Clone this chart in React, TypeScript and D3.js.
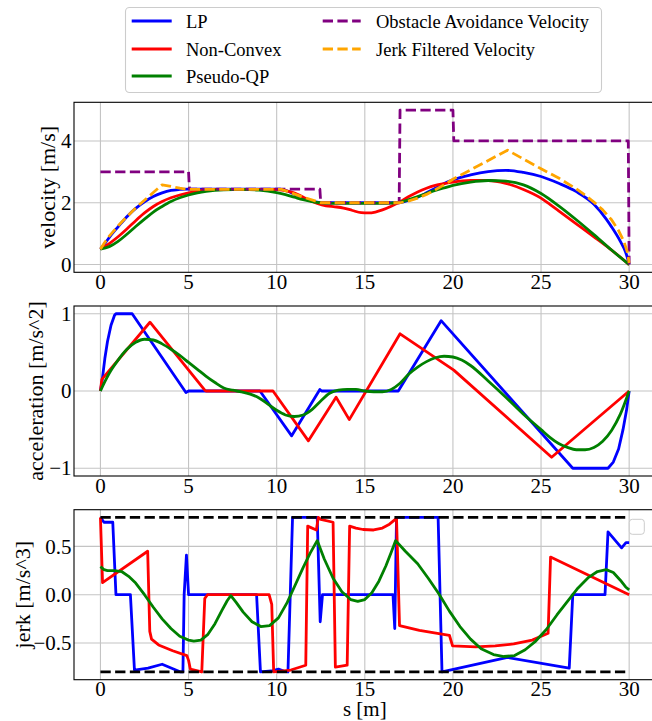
import { useEffect } from "react";
import * as d3 from "d3";

type Pt = [number, number];

// shared x axis: arc length s [m]
const sTicks = [0, 5, 10, 15, 20, 25, 30];

// ---- velocity panel ----
const velTicks = [0, 2, 4];
const velLP: Pt[] = [
  [0, 0.5], [0.3, 0.72], [0.6, 0.95], [1, 1.22], [1.5, 1.55], [2, 1.82], [2.5, 2.03], [3, 2.2],
  [3.5, 2.32], [4, 2.4], [4.5, 2.43], [5, 2.44], [10.2, 2.44], [10.6, 2.38], [11, 2.28], [11.5, 2.15],
  [12, 2.05], [12.5, 2.0], [16.9, 2.0], [17.5, 2.08], [18, 2.18], [18.5, 2.32], [19, 2.47], [19.5, 2.62],
  [20, 2.74], [21, 2.9], [22, 3.01], [23, 3.05], [24, 2.98], [25, 2.85], [26, 2.63], [27, 2.36],
  [28, 1.95], [28.7, 1.47], [29, 1.22], [29.5, 0.75], [29.8, 0.4], [30, 0.02],
];
const velNC: Pt[] = [
  [0, 0.5], [0.5, 0.68], [1, 0.9], [1.5, 1.15], [2, 1.42], [2.5, 1.67], [3, 1.88], [3.5, 2.04],
  [4, 2.16], [4.5, 2.25], [5, 2.32], [5.5, 2.38], [6, 2.42], [6.5, 2.43], [9.8, 2.43], [10.3, 2.41],
  [10.8, 2.35], [11.3, 2.24], [11.8, 2.1], [12.3, 1.98], [12.8, 1.9], [13.3, 1.87], [13.8, 1.83],
  [14.3, 1.75], [14.8, 1.68], [15.2, 1.67], [15.6, 1.7], [16, 1.77], [16.5, 1.89], [17, 2.03],
  [17.5, 2.2], [18, 2.35], [18.5, 2.47], [19, 2.56], [19.5, 2.62], [20, 2.67], [21, 2.72], [22, 2.72],
  [23, 2.63], [24, 2.43], [25, 2.15], [25.5, 1.95], [26, 1.74], [27, 1.32], [28, 0.9], [29, 0.47], [30, 0],
];
const velQP: Pt[] = [
  [0, 0.5], [0.5, 0.58], [1, 0.75], [1.5, 0.98], [2, 1.23], [2.5, 1.47], [3, 1.7], [3.5, 1.88],
  [4, 2.04], [4.5, 2.16], [5, 2.25], [5.5, 2.32], [6, 2.37], [7, 2.42], [8, 2.43], [9, 2.41],
  [9.5, 2.38], [10, 2.33], [10.5, 2.26], [11, 2.18], [11.5, 2.1], [12, 2.04], [12.5, 2.0], [13, 1.98],
  [14, 1.98], [15, 1.98], [16, 1.98], [16.5, 1.99], [17, 2.02], [17.5, 2.1], [18, 2.2], [18.5, 2.3],
  [19, 2.4], [19.5, 2.48], [20, 2.56], [21, 2.67], [22, 2.72], [23, 2.7], [24, 2.58], [25, 2.3],
  [26, 1.9], [27, 1.45], [28, 0.97], [29, 0.47], [30, 0],
];
const velObstacle: Pt[] = [
  [0, 3], [5, 3], [5.05, 2.44], [12.45, 2.44], [12.5, 2.0], [16.95, 2.0], [17, 5], [20, 5], [20.05, 4],
  [29.95, 4], [30, 0],
];
const velJerkFiltered: Pt[] = [
  [0, 0.5], [0.25, 0.72], [0.5, 0.92], [1, 1.25], [1.5, 1.55], [2, 1.83], [2.5, 2.08], [3, 2.33],
  [3.5, 2.58], [4, 2.53], [4.5, 2.47], [5, 2.43], [10.3, 2.43], [11.4, 2.2], [12.5, 2.0], [17, 2.0],
  [17.5, 2.06], [18, 2.15], [18.5, 2.27], [19, 2.42], [19.5, 2.58], [20, 2.76], [23.1, 3.7], [25, 3.1],
  [26, 2.8], [27, 2.45], [27.5, 2.25], [28, 2.02], [28.5, 1.77], [29, 1.45], [29.4, 1.1], [29.7, 0.75],
  [29.9, 0.4], [30, 0.05],
];

// ---- acceleration panel ----
const accTicks = [-1, 0, 1];
const accLP: Pt[] = [
  [0, 0], [0.1, 0.14], [0.25, 0.42], [0.4, 0.64], [0.6, 0.85], [0.8, 0.98], [0.88, 1.0], [1.8, 1.0],
  [4.85, -0.02], [5.0, 0], [9.05, 0], [10.85, -0.58], [12.45, 0.02], [12.55, 0], [16.9, 0],
  [19.33, 0.91], [26.8, -1.0], [28.8, -1.0], [29.1, -0.92], [29.4, -0.75], [29.65, -0.5],
  [29.85, -0.25], [30, 0],
];
const accNC: Pt[] = [
  [0, 0], [0.08, 0.15], [2.81, 0.89], [5.92, 0.01], [6.0, 0], [9.79, 0], [11.8, -0.645], [13.37, -0.08],
  [14.12, -0.37], [17.0, 0.74], [20.05, 0.27], [25.6, -0.857], [30, 0],
];
const accQP: Pt[] = [
  [0, 0], [0.25, 0.12], [0.5, 0.23], [1, 0.4], [1.5, 0.54], [2, 0.63], [2.5, 0.67], [3, 0.66],
  [3.5, 0.61], [4, 0.54], [4.5, 0.46], [5, 0.37], [5.5, 0.28], [6, 0.19], [6.5, 0.11], [7, 0.04],
  [7.5, 0.01], [8, -0.01], [8.5, -0.04], [9, -0.09], [9.5, -0.17], [10, -0.25], [10.5, -0.31],
  [11, -0.33], [11.5, -0.31], [12, -0.24], [12.5, -0.13], [13, -0.03], [13.5, 0.01], [14, 0.02],
  [14.5, 0.02], [15, 0.0], [15.5, -0.01], [16, -0.01], [16.5, 0.02], [17, 0.1], [17.5, 0.22],
  [18, 0.31], [18.5, 0.38], [19, 0.43], [19.5, 0.45], [20, 0.44], [20.5, 0.4], [21, 0.33], [22, 0.13],
  [23, -0.08], [24, -0.3], [25, -0.5], [25.5, -0.6], [26, -0.68], [26.5, -0.73], [27, -0.76],
  [27.5, -0.76], [28, -0.73], [28.5, -0.65], [29, -0.51], [29.5, -0.3], [30, 0],
];

// ---- jerk panel ----
const jerkTicks = [-0.5, 0, 0.5];
const jerkLimit = 0.8;
const jerkLP: Pt[] = [
  [0, 0.8], [0.2, 0.75], [0.7, 0.75], [0.88, 0], [1.7, 0], [1.93, -0.78], [2.7, -0.76], [3.5, -0.72],
  [4.55, -0.8], [4.68, -0.8], [4.75, 0], [4.88, 0.41], [5.0, 0], [8.86, 0], [9.08, -0.8], [9.7, -0.79],
  [10.1, -0.77], [10.4, -0.79], [10.64, -0.8], [10.9, 0.8], [12.3, 0.8], [12.47, -0.28], [12.6, 0],
  [16.6, 0], [16.7, -0.35], [16.8, 0.8], [19.16, 0.8], [19.38, -0.8], [23.1, -0.65], [26.6, -0.76],
  [26.8, 0], [28.63, 0], [28.8, 0.65], [29.57, 0.485], [29.82, 0.54], [30, 0.54],
];
const jerkNC: Pt[] = [
  [0, 0.8], [0.12, 0.125], [2.68, 0.45], [2.8, -0.38], [2.9, -0.46], [3.3, -0.52], [4.1, -0.58],
  [4.9, -0.63], [5.0, -0.68], [5.1, -0.77], [5.75, -0.8], [5.92, -0.04], [6.07, 0], [9.57, 0],
  [9.72, -0.1], [9.83, -0.8], [10.8, -0.78], [11.65, -0.73], [11.76, 0.71], [12.25, 0.67], [12.36, 0.8],
  [12.5, 0.78], [13.2, 0.75], [13.33, -0.75], [14.0, -0.73], [14.14, 0.71], [14.5, 0.69], [14.9, 0.675],
  [15.5, 0.67], [16.0, 0.69], [16.4, 0.73], [16.8, 0.79], [16.97, -0.32], [18.1, -0.37], [19.8, -0.42],
  [19.98, -0.53], [21.3, -0.54], [22.4, -0.53], [23.45, -0.51], [24.5, -0.47], [25.4, -0.4],
  [25.54, 0.39], [30, 0],
];
const jerkQP: Pt[] = [
  [0, 0.29], [0.2, 0.26], [0.4, 0.25], [0.8, 0.25], [1.2, 0.24], [1.6, 0.19], [2.0, 0.12], [2.5, 0.0],
  [3.0, -0.13], [3.5, -0.25], [4.0, -0.35], [4.5, -0.43], [5.0, -0.47], [5.3, -0.48], [5.7, -0.47],
  [6.1, -0.41], [6.5, -0.3], [6.9, -0.16], [7.2, -0.06], [7.4, -0.01], [7.7, -0.08], [8.1, -0.18],
  [8.6, -0.28], [9.1, -0.33], [9.6, -0.32], [10.1, -0.24], [10.6, -0.08], [11.0, 0.08], [11.5, 0.28],
  [11.9, 0.43], [12.3, 0.56], [12.7, 0.37], [13.2, 0.17], [13.7, 0.03], [14.2, -0.05], [14.6, -0.07],
  [15.0, -0.05], [15.4, 0.02], [15.8, 0.14], [16.2, 0.3], [16.5, 0.44], [16.75, 0.56], [17.3, 0.45],
  [18.0, 0.32], [18.6, 0.17], [19.2, 0.01], [19.8, -0.17], [20.4, -0.33], [21.0, -0.46], [21.6, -0.56],
  [22.3, -0.62], [22.9, -0.64], [23.5, -0.63], [24.1, -0.57], [24.7, -0.48], [25.3, -0.36],
  [25.9, -0.21], [26.5, -0.07], [27.1, 0.07], [27.7, 0.18], [28.2, 0.24], [28.7, 0.26], [29.1, 0.23],
  [29.5, 0.15], [29.8, 0.08], [30, 0.05],
];

const legendItems = [
  { label: "LP", color: "#0000ff", dashed: false },
  { label: "Non-Convex", color: "#ff0000", dashed: false },
  { label: "Pseudo-QP", color: "#008000", dashed: false },
  { label: "Obstacle Avoidance Velocity", color: "#800080", dashed: true },
  { label: "Jerk Filtered Velocity", color: "#ffa500", dashed: true },
];

const FONT = "Liberation Serif, DejaVu Serif, serif";
const LW = 2.8;
const DASH = "10.3,4.4";
const W = 652;
const H = 721;
const plotLeft = 74;
const plotRight = 655.6;
const panelTop0 = 102.3;
const panelH = 170;
const panelStep = 203.7;

type Series = { data: Pt[]; color: string; dash?: string; smooth?: boolean };
type PanelDef = {
  label: string;
  labelX: number;
  ticks: number[];
  digits: number;
  domain: [number, number];
  series: Series[];
  limits?: number;
  emptyLegend?: boolean;
};

// matplotlib-like 5% margins
const pad = (lo: number, hi: number): [number, number] => {
  const m = (hi - lo) * 0.05;
  return [lo - m, hi + m];
};

const fmt = (v: number, digits: number) => (v < 0 ? "\u2212" : "") + Math.abs(v).toFixed(digits);

const panels: PanelDef[] = [
  {
    label: "velocity [m/s]",
    labelX: 55,
    ticks: velTicks,
    digits: 0,
    domain: pad(0, 5),
    series: [
      { data: velLP, color: "#0000ff", smooth: true },
      { data: velNC, color: "#ff0000", smooth: true },
      { data: velQP, color: "#008000", smooth: true },
      { data: velObstacle, color: "#800080", dash: DASH },
      { data: velJerkFiltered, color: "#ffa500", dash: DASH },
    ],
  },
  {
    label: "acceleration [m/s^2]",
    labelX: 43,
    ticks: accTicks,
    digits: 0,
    domain: pad(-1, 1),
    series: [
      { data: accLP, color: "#0000ff" },
      { data: accNC, color: "#ff0000" },
      { data: accQP, color: "#008000", smooth: true },
    ],
  },
  {
    label: "jerk [m/s^3]",
    labelX: 30,
    ticks: jerkTicks,
    digits: 1,
    domain: pad(-jerkLimit, jerkLimit),
    series: [
      { data: jerkLP, color: "#0000ff" },
      { data: jerkNC, color: "#ff0000" },
      { data: jerkQP, color: "#008000" },
    ],
    limits: jerkLimit,
    emptyLegend: true,
  },
];

const x = d3.scaleLinear().domain(pad(0, 30)).range([plotLeft, plotRight]);

function Panel({ def, index }: { def: PanelDef; index: number }) {
  const top = panelTop0 + index * panelStep;
  const bottom = top + panelH;
  const y = d3.scaleLinear().domain(def.domain).range([bottom, top]);
  const mid = (top + bottom) / 2;
  return (
    <g>
      <g stroke="#c4c4c4" strokeWidth={1.1}>
        {sTicks.map((t) => (
          <line key={"gx" + t} x1={x(t)} x2={x(t)} y1={top} y2={bottom} />
        ))}
        {def.ticks.map((t) => (
          <line key={"gy" + t} x1={plotLeft} x2={plotRight} y1={y(t)} y2={y(t)} />
        ))}
      </g>
      {def.series.map((s, i) => {
        const line = d3
          .line<Pt>()
          .x((d) => x(d[0]))
          .y((d) => y(d[1]))
          .curve(s.smooth ? d3.curveMonotoneX : d3.curveLinear);
        return (
          <path
            key={i}
            d={line(s.data) || ""}
            fill="none"
            stroke={s.color}
            strokeWidth={LW}
            strokeDasharray={s.dash}
            strokeLinejoin="round"
          />
        );
      })}
      {def.limits !== undefined &&
        [def.limits, -def.limits].map((l) => (
          <line
            key={"lim" + l}
            x1={x(0)}
            x2={x(30)}
            y1={y(l)}
            y2={y(l)}
            stroke="#000"
            strokeWidth={LW}
            strokeDasharray={DASH}
          />
        ))}
      {def.emptyLegend && (
        <rect x={629.3} y={519.3} width={15} height={15} rx={3} fill="#fff" fillOpacity={0.8} stroke="#cccccc" />
      )}
      <rect x={plotLeft} y={top} width={plotRight - plotLeft} height={panelH} fill="none" stroke="#000" strokeWidth={1.1} />
      <g style={{ fontFamily: FONT, fontSize: "21px" }} fill="#000">
        {def.ticks.map((t) => (
          <text key={"ty" + t} x={plotLeft - 2.5} y={y(t)} dy="0.34em" textAnchor="end">
            {fmt(t, def.digits)}
          </text>
        ))}
        {sTicks.map((t) => (
          <text key={"tx" + t} x={x(t)} y={bottom + 16.7} textAnchor="middle">
            {t}
          </text>
        ))}
      </g>
      <text
        style={{ fontFamily: FONT, fontSize: "22px" }}
        textAnchor="middle"
        transform={`translate(${def.labelX},${mid}) rotate(-90)`}
      >
        {def.label}
      </text>
    </g>
  );
}

function Legend() {
  const left = 125.5;
  const top = 7.5;
  const rows = [21, 49, 76];
  const cols = [
    { h0: 131.7, h1: 171.7, tx: 186 },
    { h0: 322.7, h1: 360.7, tx: 376 },
  ];
  return (
    <g>
      <rect x={left} y={top} width={476} height={85} rx={4} fill="#fff" stroke="#cccccc" strokeWidth={1.1} />
      {legendItems.map((it, i) => {
        const col = cols[i < 3 ? 0 : 1];
        const ry = rows[i < 3 ? i : i - 3];
        return (
          <g key={it.label}>
            <line
              x1={col.h0}
              x2={col.h1}
              y1={ry}
              y2={ry}
              stroke={it.color}
              strokeWidth={LW}
              strokeDasharray={it.dashed ? DASH : undefined}
            />
            <text x={col.tx} y={ry + 7} style={{ fontFamily: FONT, fontSize: "18.5px" }}>
              {it.label}
            </text>
          </g>
        );
      })}
    </g>
  );
}

export default function App() {
  useEffect(() => {
    document.body.style.margin = "0";
  }, []);
  return (
    <svg width={W} height={H} style={{ display: "block", background: "#fff" }}>
      {panels.map((p, i) => (
        <Panel key={p.label} def={p} index={i} />
      ))}
      <text
        x={(plotLeft + plotRight) / 2}
        y={715.5}
        style={{ fontFamily: FONT, fontSize: "21px" }}
        textAnchor="middle"
      >
        s [m]
      </text>
      <Legend />
    </svg>
  );
}
